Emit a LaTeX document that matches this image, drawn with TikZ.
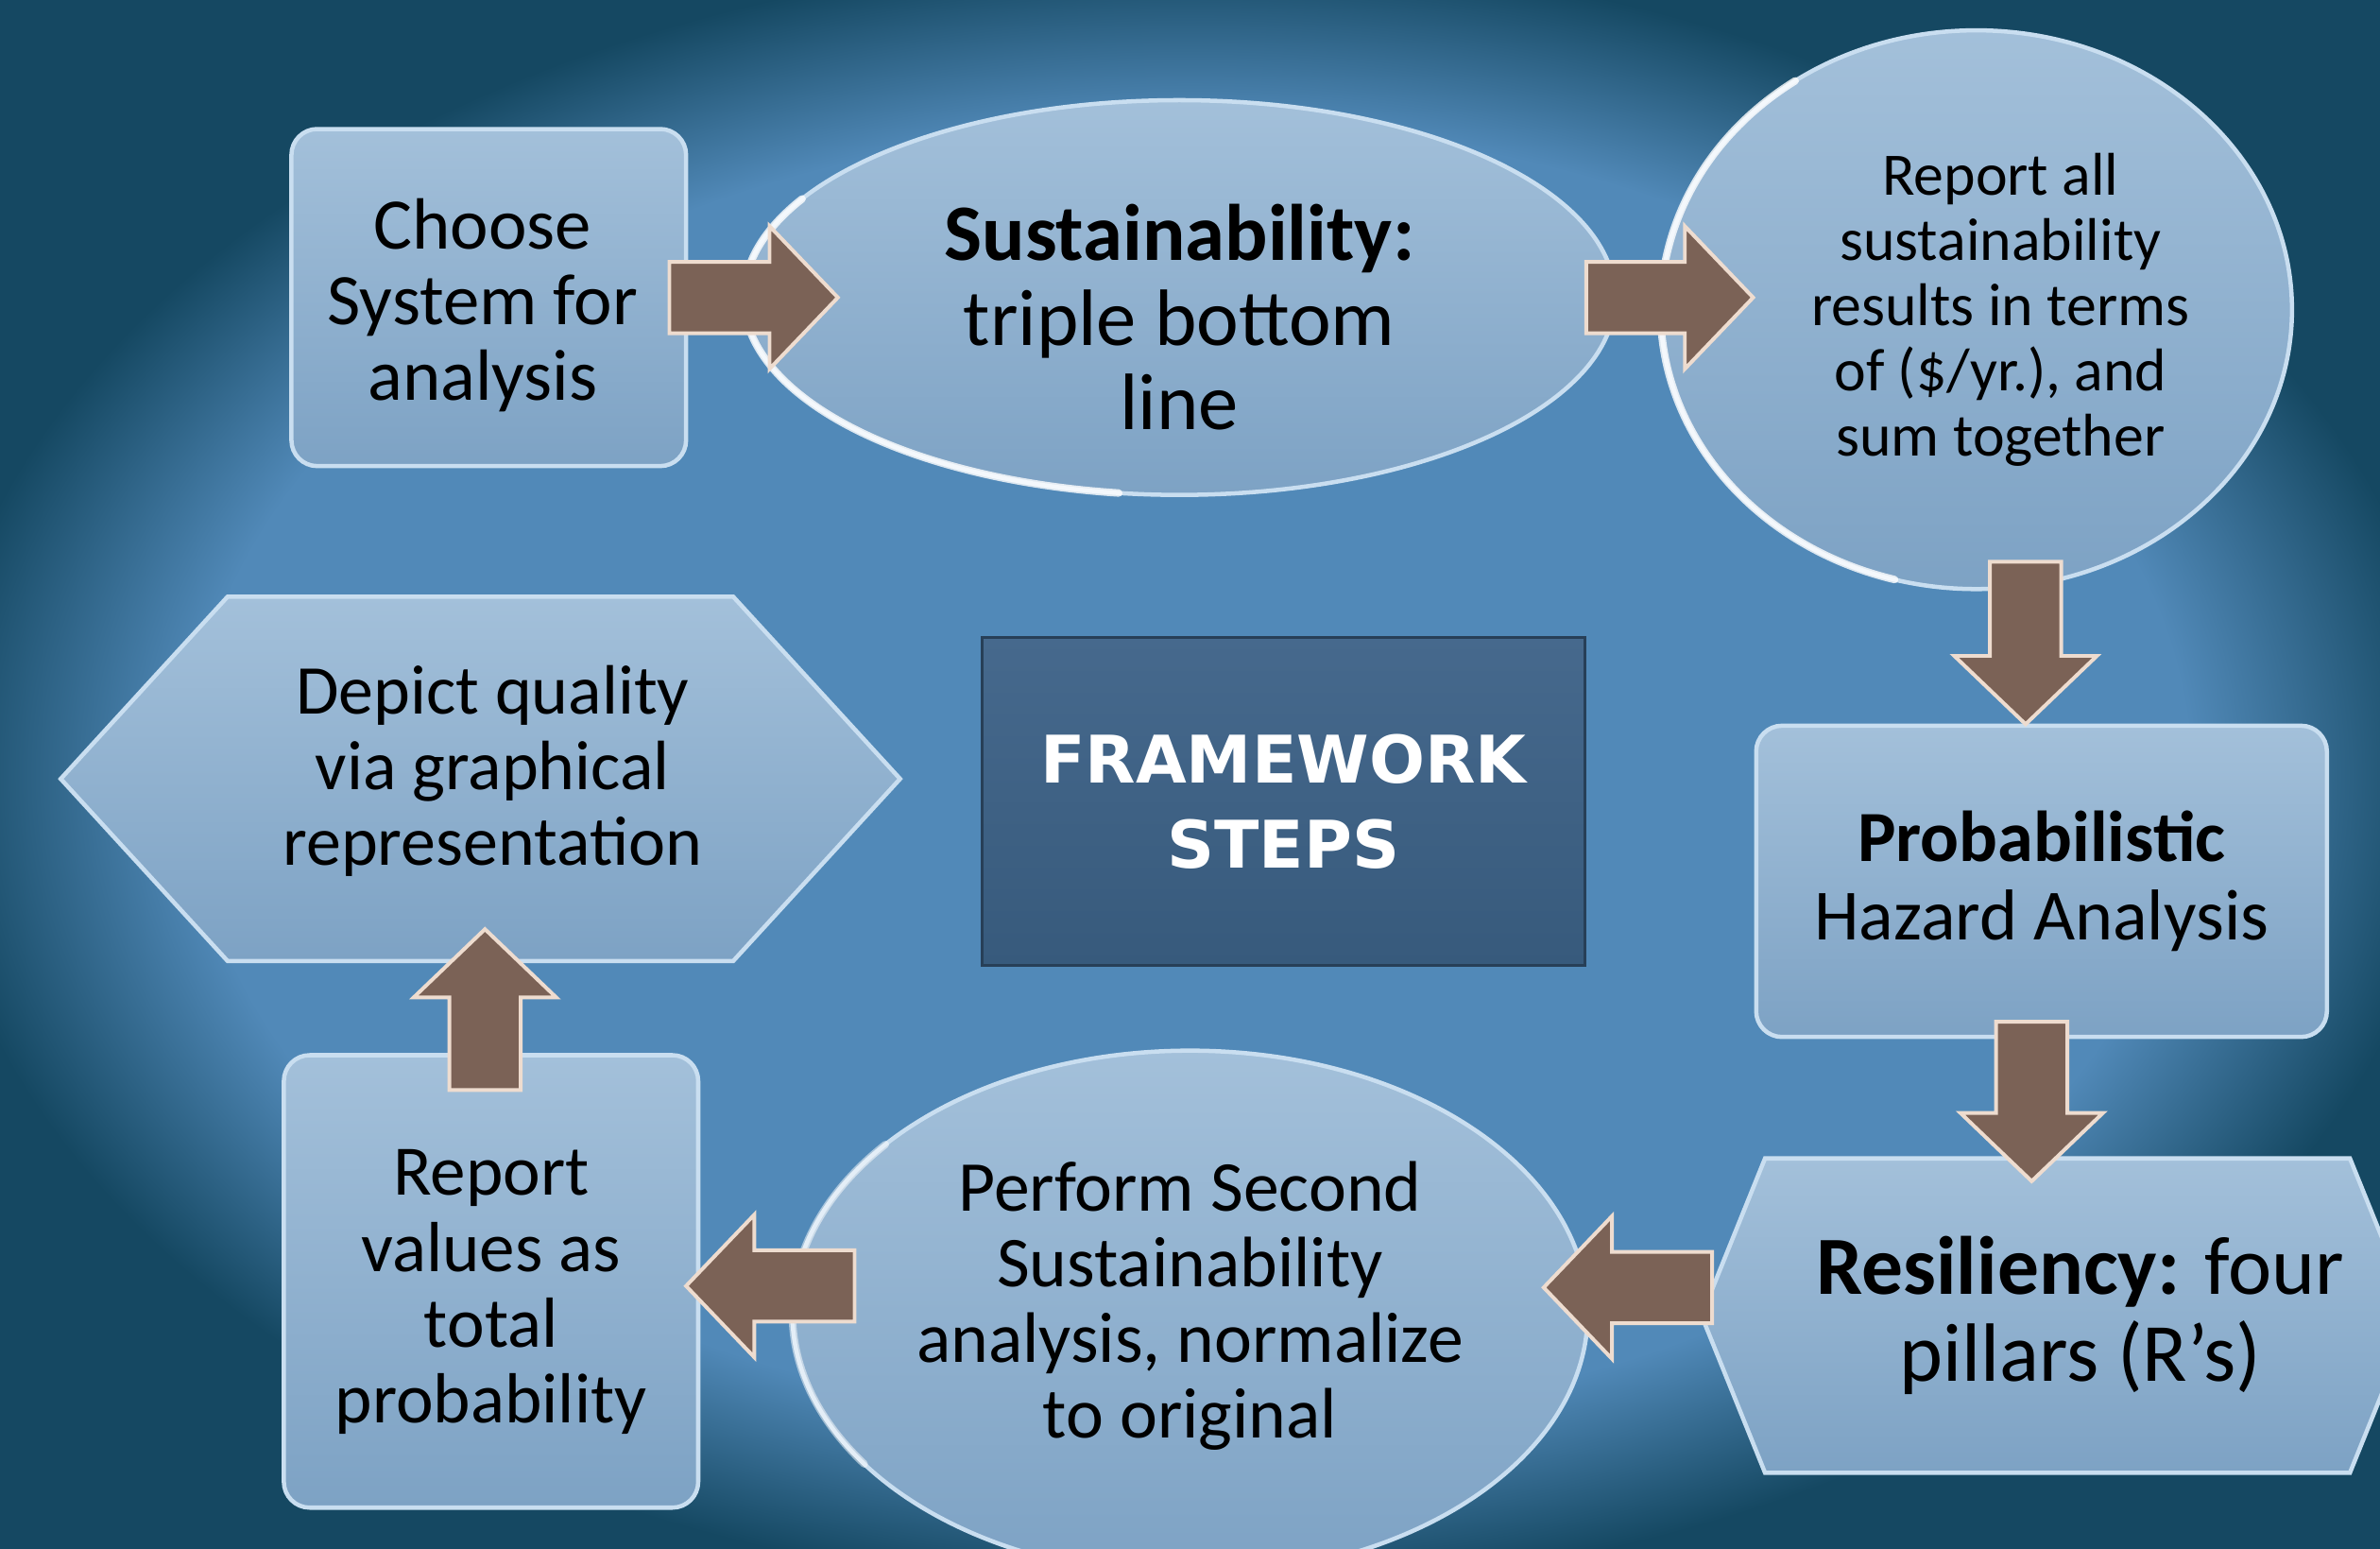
\documentclass[tikz,border=0pt]{standalone}
\usepackage{fontspec}
\setmainfont{Carlito}
\newfontfamily\headfont{DejaVu Sans}
\usetikzlibrary{calc,positioning,shapes.geometric,shapes.symbols}

\definecolor{glowin}{HTML}{5189B8}
\definecolor{glowout}{HTML}{154862}
\definecolor{celltop}{HTML}{A3C0DA}
\definecolor{cellbot}{HTML}{7DA2C4}
\definecolor{cellrim}{HTML}{C9DEF0}
\definecolor{titletop}{HTML}{46698D}
\definecolor{titlebot}{HTML}{375A7C}
\definecolor{arrowfill}{HTML}{7B6256}
\definecolor{arrowrim}{HTML}{EEDCCF}

% soft elliptical light behind the steps
\pgfdeclareradialshading{stageglow}{\pgfpoint{0bp}{0bp}}{%
  color(0bp)=(glowin); color(21bp)=(glowin); color(26.5bp)=(glowout); color(50bp)=(glowout)}

\tikzset{
  cell/.style={top color=celltop, bottom color=cellbot, draw=cellrim, line width=0.8pt,
    inner sep=0pt, outer sep=0pt},
  roundbox/.style={cell, rectangle, rounded corners=0.17cm},
  oval/.style={cell, ellipse},
  hexa/.style={cell, signal, signal to=west and east},
  steptext/.style={align=center, text=black, inner sep=0pt},
  arrowbody/.style={fill=arrowfill, draw=arrowrim, line width=0.7pt, line join=miter},
  rim/.style={white, line width=1.4pt, line cap=round, opacity=0.8},
}

% fat arrow from #1 to #2 (tip at #2)
\newcommand{\blockarrow}[2]{%
  \coordinate (ba-s) at #1;
  \coordinate (ba-e) at #2;
  \coordinate (ba-b) at ($(ba-e)!0.45cm!(ba-s)$);
  \filldraw[arrowbody] ($(ba-s)!0.235cm!90:(ba-e)$) -- ($(ba-b)!0.235cm!-90:(ba-s)$)
    -- ($(ba-b)!0.47cm!-90:(ba-s)$) -- (ba-e) -- ($(ba-b)!0.47cm!90:(ba-s)$)
    -- ($(ba-b)!0.235cm!90:(ba-s)$) -- ($(ba-s)!0.235cm!-90:(ba-e)$) -- cycle;
}

\begin{document}
\begin{tikzpicture}

    \useasboundingbox (0,0) rectangle (15.68,10.20);
    \clip (0,0) rectangle (15.68,10.20);

    % Backdrop
    \shade[shading=stageglow] (0,0) rectangle (15.68,10.20);

    %========================
    % Top row
    %========================
    \node[roundbox, minimum width=2.60cm, minimum height=2.22cm] (choose) at (3.22,8.24) {};
    \node[steptext, font=\fontsize{13.6}{14.2}\selectfont] (choose-txt)
        at ([xshift=-0.4mm,yshift=-0.5mm]choose.center) {Choose\\System for\\analysis};

    \node[oval, minimum width=5.74cm, minimum height=2.60cm] (sust) at (7.77,8.24) {};
    \node[steptext, font=\fontsize{15}{15.9}\selectfont] (sust-txt)
        at ([yshift=-1.3mm]sust.center) {\textbf{Sustainability:}\\triple bottom\\line};

    \node[oval, minimum width=4.16cm, minimum height=3.68cm] (report) at (13.02,8.16) {};
    \node[steptext, font=\fontsize{11.3}{12.2}\selectfont] (report-txt)
        at ([xshift=1.6mm]report.center)
        {Report all\\sustainability\\results in terms\\of (\$/yr.), and\\sum together};

    % highlights on the ovals
    \draw[rim] ($(sust.center)+(150:2.87 and 1.30)$)
        arc[start angle=150, end angle=262, x radius=2.87, y radius=1.30];
    \draw[rim] ($(report.center)+(125:2.08 and 1.84)$)
        arc[start angle=125, end angle=255, x radius=2.08, y radius=1.84];

    %========================
    % Right column
    %========================
    \node[roundbox, minimum width=3.76cm, minimum height=2.05cm] (prob) at (13.45,4.395) {};
    \node[steptext, font=\fontsize{13.5}{14.8}\selectfont] (prob-txt)
        at (prob.center) {\textbf{Probabilistic}\\Hazard Analysis};

    \node[hexa, minimum width=4.69cm, minimum height=2.07cm, signal pointer angle=136]
        (resil) at (13.555,1.535) {};
    \node[steptext, font=\fontsize{15.5}{16.2}\selectfont] (resil-txt)
        at ([xshift=1.5mm]resil.center) {\textbf{Resiliency:} four\\pillars (R’s)};

    %========================
    % Bottom row and left column
    %========================
    \node[oval, minimum width=5.24cm, minimum height=3.46cm] (perform) at (7.84,1.55) {};
    \node[steptext, font=\fontsize{13.4}{14.2}\selectfont] (perform-txt)
        at ([yshift=0.5mm]perform.center)
        {Perform Second\\Sustainability\\analysis, normalize\\to original};
    \draw[rim, opacity=0.5] ($(perform.center)+(140:2.62 and 1.73)$)
        arc[start angle=140, end angle=215, x radius=2.62, y radius=1.73];

    \node[roundbox, minimum width=2.73cm, minimum height=2.98cm] (values) at (3.235,1.76) {};
    \node[steptext, font=\fontsize{13.3}{14.2}\selectfont] (values-txt)
        at ([yshift=-0.7mm]values.center) {Report\\values as\\total\\probability};

    \node[hexa, minimum width=5.53cm, minimum height=2.40cm, signal pointer angle=95]
        (depict) at (3.165,5.07) {};
    \node[steptext, font=\fontsize{13.1}{14.2}\selectfont] (depict-txt)
        at ([xshift=0.8mm,yshift=0.5mm]depict.center)
        {Depict quality\\via graphical\\representation};

    % Centre title
    \node[top color=titletop, bottom color=titlebot, draw=titlebot!70!black, line width=0.6pt,
          minimum width=3.97cm, minimum height=2.16cm, align=center, text=white,
          font=\headfont\bfseries\fontsize{12.3}{15.9}\selectfont] (title) at (8.455,4.92)
        {FRAMEWORK\\STEPS};

    %========================
    % Arrows between the steps
    %========================
    \blockarrow{([xshift=-1.1mm]choose.east)}{([xshift=6.2mm]sust.west)}
    \blockarrow{([xshift=-1.9mm]sust.east)}{([xshift=6.1mm]sust.east -| report.west)}
    \blockarrow{([xshift=-1.05mm,yshift=1.8mm]report.south -| prob.north)}{([xshift=-1.05mm,yshift=0.1mm]prob.north)}
    \blockarrow{([xshift=-0.65mm,yshift=1mm]prob.south)}{([xshift=-0.65mm,yshift=-1.5mm]resil.north -| prob.south)}
    \blockarrow{([xshift=0.7mm,yshift=1.85mm]resil.west)}{([xshift=-2.9mm,yshift=1.7mm]perform.east)}
    \blockarrow{([xshift=4.1mm,yshift=1.8mm]perform.west)}{([xshift=-0.8mm,yshift=-0.3mm]values.east)}
    \blockarrow{([xshift=-0.4mm,yshift=-2.3mm]values.north)}{([xshift=0.3mm,yshift=2.1mm]depict.south)}

\end{tikzpicture}
\end{document}
